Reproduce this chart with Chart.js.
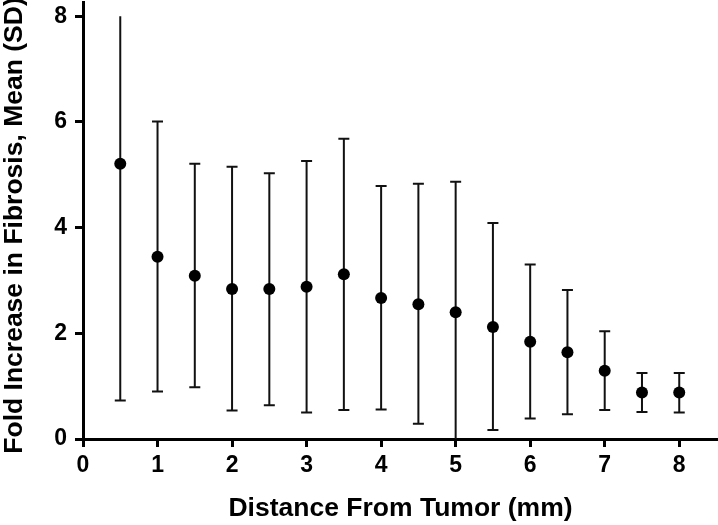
<!DOCTYPE html>
<html>
<head>
<meta charset="utf-8">
<script src="https://cdn.jsdelivr.net/npm/chart.js@4/dist/chart.umd.min.js"></script>
<style>
  html, body { margin: 0; padding: 0; background: #fff; }
  #wrap { width: 718px; height: 525px; position: relative; }
</style>
</head>
<body>
<div id="wrap"><canvas id="chart"></canvas></div>
<script>
// distance from tumor (mm) and fold increase in fibrosis
const distances = [0.5, 1, 1.5, 2, 2.5, 3, 3.5, 4, 4.5, 5, 5.5, 6, 6.5, 7, 7.5, 8];
const means = [5.21, 3.45, 3.09, 2.84, 2.84, 2.88, 3.12, 2.67, 2.55, 2.40, 2.12, 1.84, 1.64, 1.29, 0.88, 0.88];
const upperSD = [8.0, 6.01, 5.21, 5.15, 5.03, 5.26, 5.68, 4.79, 4.83, 4.87, 4.09, 3.30, 2.82, 2.04, 1.25, 1.25];
const lowerSD = [0.73, 0.90, 0.98, 0.54, 0.64, 0.50, 0.55, 0.56, 0.29, -0.07, 0.17, 0.39, 0.47, 0.55, 0.51, 0.50];
const xTicks = [0, 1, 2, 3, 4, 5, 6, 7, 8];
const yTicks = [0, 2, 4, 6, 8];

const FONT = 'Liberation Sans, Arial, Helvetica, sans-serif';

const errorBars = {
    id: 'errorBars',
    beforeDatasetsDraw(chart) {
        const { ctx, chartArea, scales } = chart;
        const x = scales.x;
        const y = scales.y;
        const cap = 5.5;
        ctx.save();
        ctx.beginPath();
        ctx.rect(chartArea.left, chartArea.top, chartArea.right - chartArea.left, chartArea.bottom - chartArea.top);
        ctx.clip();
        ctx.strokeStyle = '#111';
        ctx.lineWidth = 2;
        distances.forEach((d, i) => {
            const px = x.getPixelForValue(d);
            const top = y.getPixelForValue(upperSD[i]);
            const bot = y.getPixelForValue(lowerSD[i]);
            ctx.beginPath();
            ctx.moveTo(px, top);
            ctx.lineTo(px, bot);
            if (upperSD[i] < 8) {
                ctx.moveTo(px - cap, top);
                ctx.lineTo(px + cap, top);
            }
            if (lowerSD[i] > 0) {
                ctx.moveTo(px - cap, bot);
                ctx.lineTo(px + cap, bot);
            }
            ctx.stroke();
        });
        ctx.restore();
    }
};

// the y title sits a little lower than the plot centre in the original
function nudgeTitle(scale, dy) {
    if (scale._nudged) return;
    scale._nudged = true;
    const orig = scale.drawTitle;
    scale.drawTitle = function () {
        const t = this.top, b = this.bottom;
        this.top += dy;
        this.bottom += dy;
        orig.call(this);
        this.top = t;
        this.bottom = b;
    };
}

new Chart(document.getElementById('chart'), {
    type: 'scatter',
    data: {
        datasets: [{
            data: distances.map((d, i) => ({ x: d, y: means[i] })),
            backgroundColor: '#000',
            borderWidth: 0,
            pointRadius: 6,
            pointHoverRadius: 6,
            clip: false
        }]
    },
    options: {
        responsive: true,
        maintainAspectRatio: false,
        animation: false,
        layout: { autoPadding: false, padding: { top: 2, right: 0, left: 0, bottom: 0 } },
        plugins: {
            legend: { display: false },
            tooltip: { enabled: false }
        },
        scales: {
            x: {
                type: 'linear',
                min: 0,
                max: 8.52,
                afterBuildTicks(scale) { scale.ticks = xTicks.map(v => ({ value: v })); },
                afterFit(scale) {
                    scale.height = 86;
                    scale.paddingLeft = 0;
                    scale.paddingRight = 0;
                },
                border: { display: true, color: '#000', width: 3 },
                grid: { display: true, drawOnChartArea: false, drawTicks: true, tickLength: 8, lineWidth: 3, color: '#000' },
                ticks: { color: '#000', padding: 5, font: { family: FONT, size: 23, weight: 'bold' } },
                title: {
                    display: true,
                    text: 'Distance From Tumor (mm)',
                    color: '#000',
                    padding: { top: 16, bottom: 0 },
                    font: { family: FONT, size: 26.5, weight: 'bold' }
                }
            },
            y: {
                type: 'linear',
                min: 0,
                max: 8.27,
                afterBuildTicks(scale) { scale.ticks = yTicks.map(v => ({ value: v })); },
                afterFit(scale) {
                    scale.width = 83;
                    scale.paddingTop = 0;
                    scale.paddingBottom = 0;
                    nudgeTitle(scale, 5);
                },
                border: { display: true, color: '#000', width: 3 },
                grid: { display: true, drawOnChartArea: false, drawTicks: true, tickLength: 8, lineWidth: 3, color: '#000' },
                ticks: { color: '#000', padding: 8, font: { family: FONT, size: 23, weight: 'bold' } },
                title: {
                    display: true,
                    text: 'Fold Increase in Fibrosis, Mean (SD)',
                    color: '#000',
                    padding: { top: -1, bottom: 0 },
                    font: { family: FONT, size: 26.5, weight: 'bold' }
                }
            }
        }
    },
    plugins: [errorBars]
});
</script>
</body>
</html>
